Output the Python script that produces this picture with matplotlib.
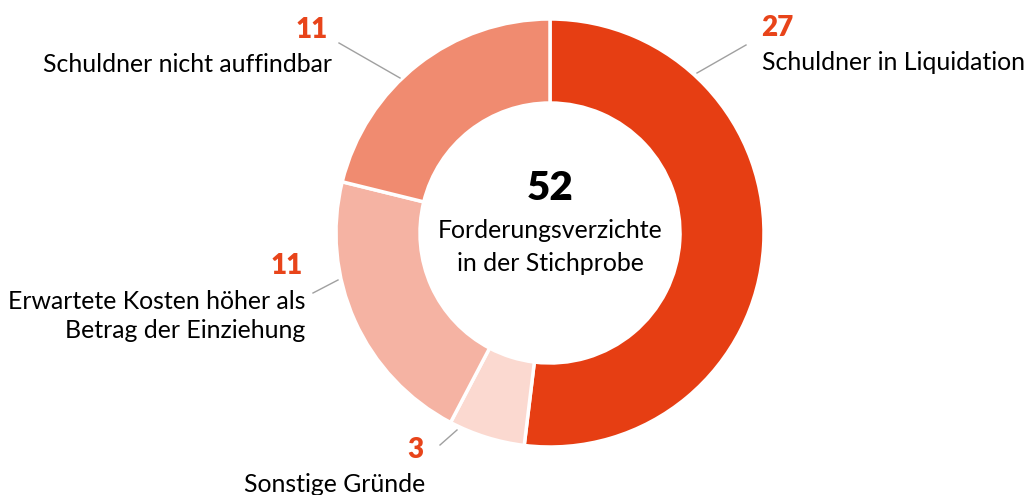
import matplotlib
matplotlib.use("Agg")
import matplotlib.pyplot as plt

labels = ["Schuldner in Liquidation", "Sonstige Gründe",
          "Erwartete Kosten höher als\nBetrag der Einziehung", "Schuldner nicht auffindbar"]
values = [27, 3, 11, 11]
colors = ["#E63E13", "#FBD9D0", "#F5B3A3", "#F08B70"]
total = sum(values)

W, H = 1033, 495
fig = plt.figure(figsize=(W / 100, H / 100), dpi=100, facecolor="white")
ax = fig.add_axes([0, 0, 1, 1])


def Y(y):
    # image pixel row -> data y
    return H - y


cx, cy, r = 550, Y(233), 214
ax.pie(values, colors=colors, startangle=90, counterclock=False,
       center=(cx, cy), radius=r, frame=True,
       wedgeprops=dict(width=r - 130, edgecolor="white", linewidth=2.5))
ax.set_xlim(0, W)
ax.set_ylim(0, H)
ax.set_axis_off()

font = "Lato"
orange = "#E8441A"
fs = 17.9
nfs = 20

# center text
ax.text(cx, Y(188), str(total), ha="center", va="center", fontsize=29,
        fontweight="heavy", family=font, color="black")
ax.text(cx, Y(247), "Forderungsverzichte\nin der Stichprobe", ha="center",
        va="center", fontsize=fs, family=font, linespacing=1.55)

line_kw = dict(color="#A0A0A0", lw=1)

# Schuldner in Liquidation
ax.text(761, Y(28), str(values[0]), ha="left", va="center", fontsize=nfs,
        fontweight="heavy", family=font, color=orange)
ax.text(762, Y(63), labels[0], ha="left", va="center", fontsize=fs, family=font)
ax.plot([746, 697], [Y(45), Y(73)], **line_kw)

# Schuldner nicht auffindbar
ax.text(328, Y(30), str(values[3]), ha="right", va="center", fontsize=nfs,
        fontweight="heavy", family=font, color=orange)
ax.text(332, Y(64), labels[3], ha="right", va="center", fontsize=fs, family=font)
ax.plot([339, 400], [Y(43), Y(78)], **line_kw)

# Erwartete Kosten
ax.text(303, Y(266), str(values[2]), ha="right", va="center", fontsize=nfs,
        fontweight="heavy", family=font, color=orange)
ax.text(305, Y(316), labels[2], ha="right", va="center", fontsize=fs,
        family=font, linespacing=1.3)
ax.plot([313, 338], [Y(293), Y(280)], **line_kw)

# Sonstige Gründe
ax.text(423, Y(450), str(values[1]), ha="right", va="center", fontsize=nfs,
        fontweight="heavy", family=font, color=orange)
ax.text(425, Y(484), labels[1], ha="right", va="center", fontsize=fs, family=font)
ax.plot([440, 457], [Y(445), Y(430)], **line_kw)

fig.savefig("out.png", dpi=100, facecolor="white")
